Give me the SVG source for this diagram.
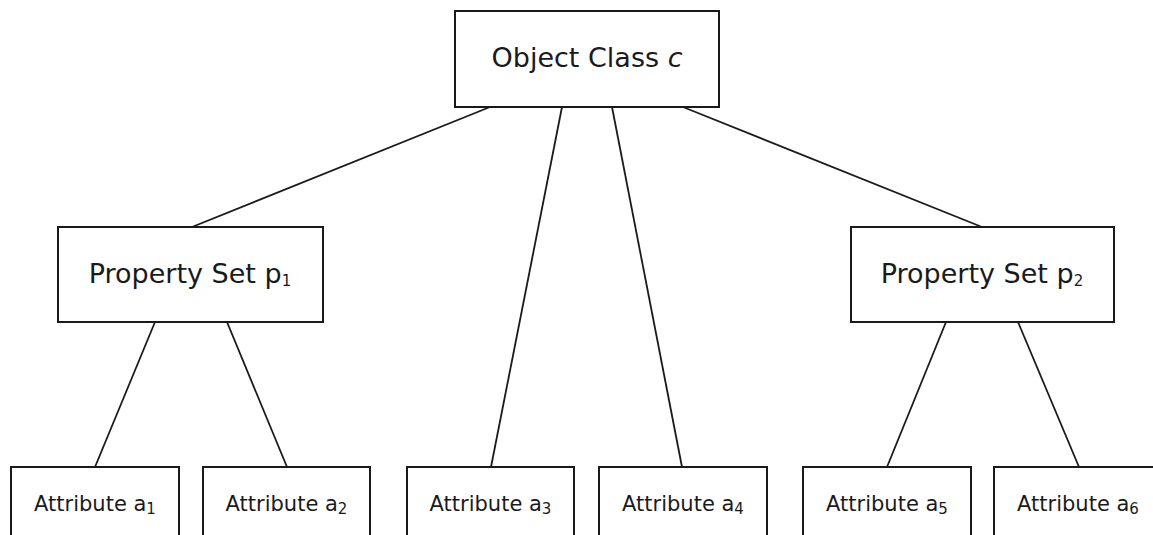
<svg xmlns="http://www.w3.org/2000/svg" width="1153" height="535" viewBox="0 0 1153 535">
<style>
.box{fill:#fff;stroke:#1a1a1a;stroke-width:2}
.ln{stroke:#1a1a1a;stroke-width:1.8;fill:none}
text{font-family:"DejaVu Sans",Verdana,sans-serif;fill:#1a1a1a;text-anchor:middle}
.big{font-size:27px}
.sm{font-size:21px}
.sub{font-size:15px}
</style>
<rect width="1153" height="535" fill="#fff"/>
<g id="connectors">
<line class="ln" x1="490" y1="107" x2="192" y2="227"/>
<line class="ln" x1="562" y1="107" x2="491" y2="467"/>
<line class="ln" x1="612" y1="107" x2="682" y2="467"/>
<line class="ln" x1="683" y1="107" x2="982" y2="227"/>
<line class="ln" x1="155" y1="322" x2="95" y2="467"/>
<line class="ln" x1="227" y1="322" x2="287" y2="467"/>
<line class="ln" x1="946" y1="322" x2="887" y2="467"/>
<line class="ln" x1="1018" y1="322" x2="1079" y2="467"/>
</g>
<g id="objectClass">
<rect class="box" x="455" y="11" width="264" height="96"/>
<text class="big" x="587" y="67">Object Class <tspan font-style="italic">c</tspan></text>
</g>
<g id="propertySet1">
<rect class="box" x="58" y="227" width="265" height="95"/>
<text class="big" x="190" y="283">Property Set p<tspan class="sub" dy="3">1</tspan></text>
</g>
<g id="propertySet2">
<rect class="box" x="851" y="227" width="263" height="95"/>
<text class="big" x="982" y="283">Property Set p<tspan class="sub" dy="3">2</tspan></text>
</g>
<g id="attr1">
<rect class="box" x="11" y="467" width="168" height="80"/>
<text class="sm" x="95" y="511">Attribute a<tspan class="sub" dy="3">1</tspan></text>
</g>
<g id="attr2">
<rect class="box" x="203" y="467" width="167" height="80"/>
<text class="sm" x="286.5" y="511">Attribute a<tspan class="sub" dy="3">2</tspan></text>
</g>
<g id="attr3">
<rect class="box" x="407" y="467" width="167" height="80"/>
<text class="sm" x="490.5" y="511">Attribute a<tspan class="sub" dy="3">3</tspan></text>
</g>
<g id="attr4">
<rect class="box" x="599" y="467" width="168" height="80"/>
<text class="sm" x="683" y="511">Attribute a<tspan class="sub" dy="3">4</tspan></text>
</g>
<g id="attr5">
<rect class="box" x="803" y="467" width="168" height="80"/>
<text class="sm" x="887" y="511">Attribute a<tspan class="sub" dy="3">5</tspan></text>
</g>
<g id="attr6">
<rect class="box" x="994" y="467" width="168" height="80"/>
<text class="sm" x="1078" y="511">Attribute a<tspan class="sub" dy="3">6</tspan></text>
</g>
</svg>
